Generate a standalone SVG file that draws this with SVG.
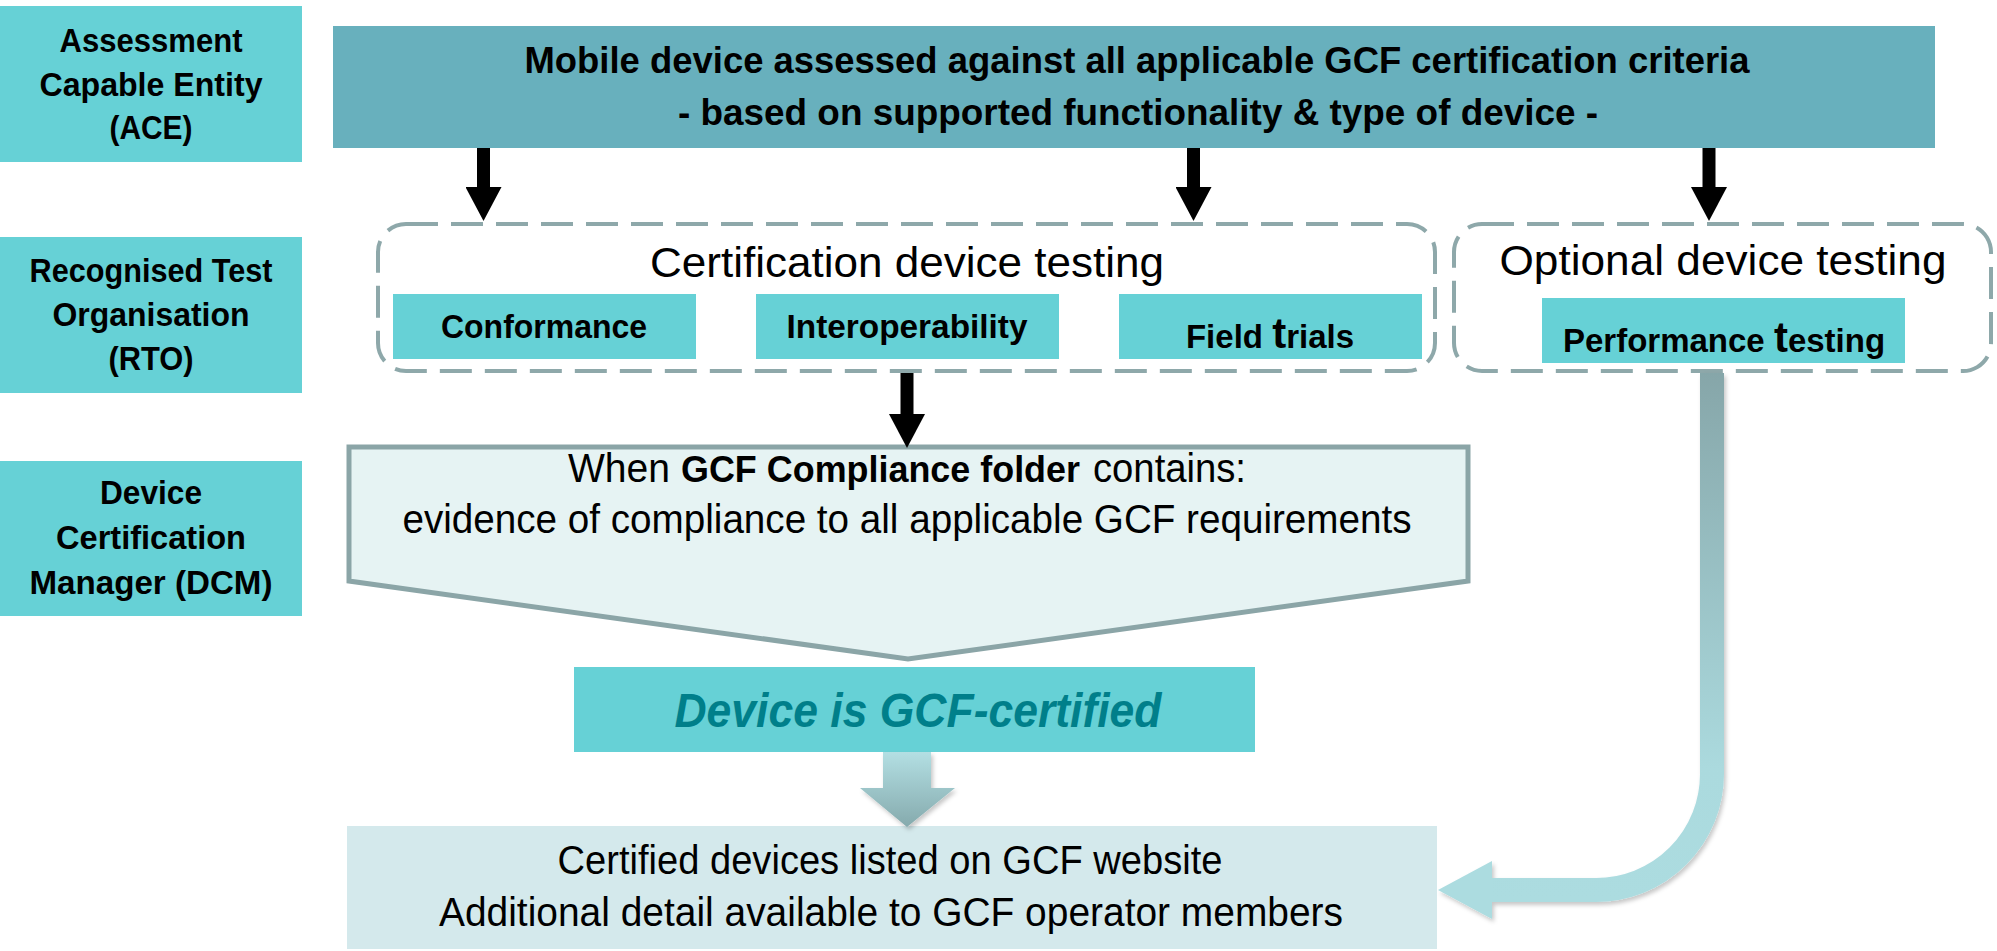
<svg xmlns="http://www.w3.org/2000/svg" width="1997" height="951" viewBox="0 0 1997 951">
<style>
.t{font-family:"Liberation Sans",Arial,sans-serif;fill:#000}
.b{font-weight:bold}
.lbl{fill:#66d1d6}
.dash{fill:none;stroke:#8ea8aa;stroke-width:4;stroke-dasharray:32 13}
.blk{stroke:#000;stroke-width:13;fill:none}
</style>
<defs>
<marker id="ah" markerUnits="userSpaceOnUse" viewBox="0 0 34 36" markerWidth="34" markerHeight="36" refX="0" refY="18" orient="auto">
<path d="M0,0 L34,18 L0,36 z" fill="#000"/>
</marker>
<linearGradient id="gSmall" x1="0" y1="752" x2="0" y2="827" gradientUnits="userSpaceOnUse">
<stop offset="0" stop-color="#b3dfe3"/>
<stop offset="1" stop-color="#85aaad"/>
</linearGradient>
<linearGradient id="gCurve" x1="0" y1="373" x2="0" y2="900" gradientUnits="userSpaceOnUse">
<stop offset="0" stop-color="#86a6a9"/>
<stop offset="0.75" stop-color="#abdade"/>
<stop offset="1" stop-color="#acdce0"/>
</linearGradient>
<filter id="sh" x="-20%" y="-20%" width="140%" height="140%">
<feDropShadow dx="2" dy="3" stdDeviation="2" flood-color="#000" flood-opacity="0.22"/>
</filter>
</defs>

<g id="ace">
<rect class="lbl" x="0" y="6" width="302" height="156"/>
<text class="t b" font-size="34" text-anchor="middle" x="151" y="52" textLength="183" lengthAdjust="spacingAndGlyphs">Assessment</text>
<text class="t b" font-size="34" text-anchor="middle" x="151" y="96" textLength="223" lengthAdjust="spacingAndGlyphs">Capable Entity</text>
<text class="t b" font-size="34" text-anchor="middle" x="151" y="139" textLength="83" lengthAdjust="spacingAndGlyphs">(ACE)</text>
</g>
<g id="rto">
<rect class="lbl" x="0" y="237" width="302" height="156"/>
<text class="t b" font-size="34" text-anchor="middle" x="151" y="282" textLength="243" lengthAdjust="spacingAndGlyphs">Recognised Test</text>
<text class="t b" font-size="34" text-anchor="middle" x="151" y="326" textLength="197" lengthAdjust="spacingAndGlyphs">Organisation</text>
<text class="t b" font-size="34" text-anchor="middle" x="151" y="370" textLength="85" lengthAdjust="spacingAndGlyphs">(RTO)</text>
</g>
<g id="dcm">
<rect class="lbl" x="0" y="461" width="302" height="155"/>
<text class="t b" font-size="34" text-anchor="middle" x="151" y="504" textLength="102" lengthAdjust="spacingAndGlyphs">Device</text>
<text class="t b" font-size="34" text-anchor="middle" x="151" y="549" textLength="190" lengthAdjust="spacingAndGlyphs">Certification</text>
<text class="t b" font-size="34" text-anchor="middle" x="151" y="594" textLength="243" lengthAdjust="spacingAndGlyphs">Manager (DCM)</text>
</g>

<g id="assessment">
<rect x="333" y="26" width="1602" height="122" fill="#68b0bd"/>
<text class="t b" font-size="37" text-anchor="middle" x="1137" y="73" textLength="1225" lengthAdjust="spacingAndGlyphs">Mobile device assessed against all applicable GCF certification criteria</text>
<text class="t b" font-size="37" text-anchor="middle" x="1138" y="125" textLength="920" lengthAdjust="spacingAndGlyphs">- based on supported functionality &amp; type of device -</text>
</g>

<g id="cert-testing">
<rect class="dash" x="378" y="224" width="1057" height="147" rx="28"/>
<text class="t" font-size="43" text-anchor="middle" x="907" y="277" textLength="514" lengthAdjust="spacingAndGlyphs">Certification device testing</text>
</g>
<g id="conformance">
<rect class="lbl" x="393" y="294" width="303" height="65"/>
<text class="t b" font-size="33" text-anchor="middle" x="544" y="338" textLength="206" lengthAdjust="spacingAndGlyphs">Conformance</text>
</g>
<g id="interop">
<rect class="lbl" x="756" y="294" width="303" height="65"/>
<text class="t b" font-size="33" text-anchor="middle" x="907" y="338" textLength="241" lengthAdjust="spacingAndGlyphs">Interoperability</text>
</g>
<g id="field">
<rect class="lbl" x="1119" y="294" width="303" height="65"/>
<text class="t b" font-size="33" text-anchor="middle" x="1270" y="348">Field <tspan font-size="42">t</tspan>rials</text>
</g>

<g id="optional-testing">
<rect class="dash" x="1454" y="224" width="537" height="147" rx="28"/>
<text class="t" font-size="43" text-anchor="middle" x="1723" y="275" textLength="447" lengthAdjust="spacingAndGlyphs">Optional device testing</text>
</g>
<g id="performance">
<rect class="lbl" x="1542" y="298" width="363" height="65"/>
<text class="t b" font-size="33" text-anchor="middle" x="1724" y="352">Performance <tspan font-size="42">t</tspan>esting</text>
</g>

<g id="compliance">
<polygon points="349,447 1468,447 1468,581 908,659 349,581" fill="#e6f3f3" stroke="#8ba5a7" stroke-width="5"/>
<text class="t" font-size="40" x="568" y="482" textLength="102" lengthAdjust="spacingAndGlyphs">When</text>
<text class="t b" font-size="36" x="681" y="482" textLength="399" lengthAdjust="spacingAndGlyphs">GCF Compliance folder</text>
<text class="t" font-size="40" x="1093" y="482" textLength="153" lengthAdjust="spacingAndGlyphs">contains:</text>
<text class="t" font-size="40" text-anchor="middle" x="907" y="533" textLength="1009" lengthAdjust="spacingAndGlyphs">evidence of compliance to all applicable GCF requirements</text>
</g>

<g id="certified">
<rect class="lbl" x="574" y="667" width="681" height="85"/>
<text class="t b" font-size="48" font-style="italic" text-anchor="middle" x="918" y="727" style="fill:#007f8a" textLength="487" lengthAdjust="spacingAndGlyphs">Device is GCF-certified</text>
</g>

<g id="listed">
<rect x="347" y="826" width="1090" height="123" fill="#d4e9ec"/>
<text class="t" font-size="40" text-anchor="middle" x="890" y="874" textLength="665" lengthAdjust="spacingAndGlyphs">Certified devices listed on GCF website</text>
<text class="t" font-size="40" text-anchor="middle" x="891" y="926" textLength="904" lengthAdjust="spacingAndGlyphs">Additional detail available to GCF operator members</text>
</g>

<g id="connectors">
<line class="blk" x1="483.5" y1="148" x2="483.5" y2="187" marker-end="url(#ah)"/>
<line class="blk" x1="1193.5" y1="148" x2="1193.5" y2="187" marker-end="url(#ah)"/>
<line class="blk" x1="1709" y1="148" x2="1709" y2="187" marker-end="url(#ah)"/>
<line class="blk" x1="907" y1="373" x2="907" y2="414" marker-end="url(#ah)"/>
<polygon points="883,752 931,752 931,788 955,788 907,827 860,788 883,788" fill="url(#gSmall)" filter="url(#sh)"/>
<g filter="url(#sh)">
<path d="M1712,373 L1712,774 A116,116 0 0 1 1596,890 L1488,890" fill="none" stroke="url(#gCurve)" stroke-width="24"/>
<polygon points="1438,890 1492,861 1492,919" fill="#acdce0"/>
</g>
</g>
</svg>
